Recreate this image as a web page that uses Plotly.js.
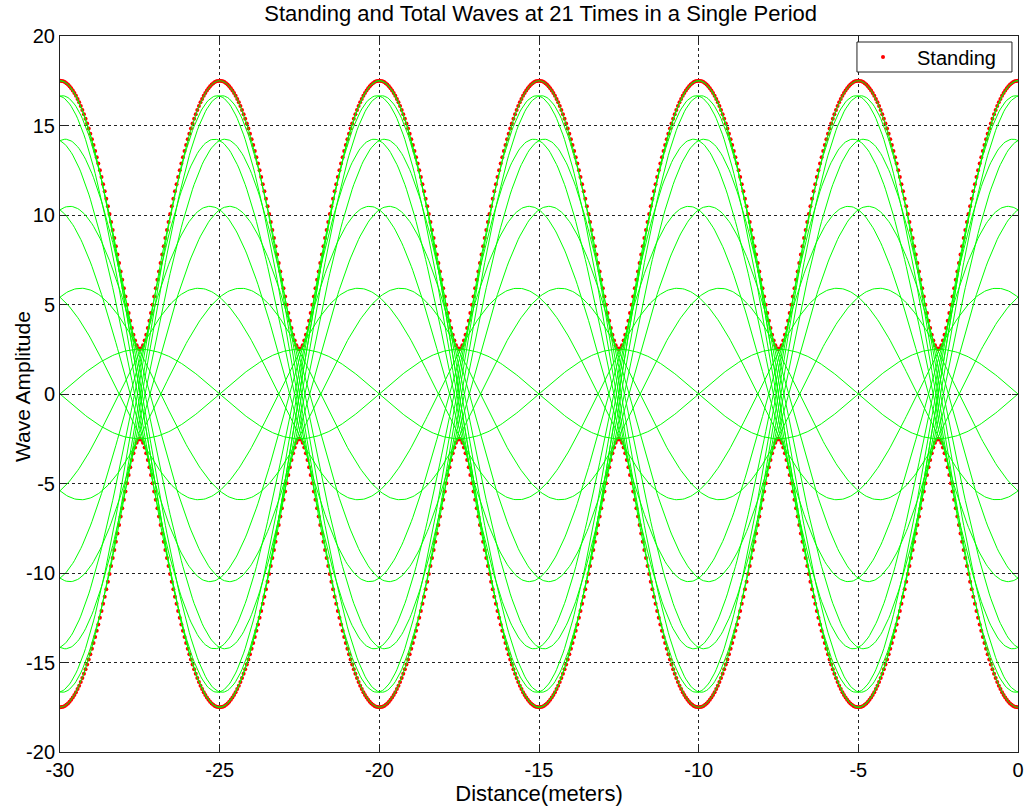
<!DOCTYPE html>
<html>
<head>
<meta charset="utf-8">
<script src="https://cdn.plot.ly/plotly-3.0.1.min.js"></script>
<style>html,body{margin:0;padding:0;background:#fff;}#chart{width:1026px;height:807px;}</style>
</head>
<body>
<div id="chart"></div>
<script>
// Parameters (wave model behind the drawn curves)
const incidentAmplitude = 10;     // peak sum 17.5, node minimum 2.5
const reflectedAmplitude = 7.5;
const wavelength = 10;            // peaks every 10 m, envelope every 5 m
const timeCount = 21;             // 21 times in a single period
const xStart = -30, xEnd = 0, xStep = 0.05;
const xTickVals = [-30, -25, -20, -15, -10, -5, 0];
const yTickVals = [-20, -15, -10, -5, 0, 5, 10, 15, 20];

const k = 2 * Math.PI / wavelength;
const xs = [];
for (let x = xStart; x <= xEnd + 1e-9; x += xStep) xs.push(+x.toFixed(4));

const envTop = xs.map(x => Math.sqrt(incidentAmplitude ** 2 + reflectedAmplitude ** 2 +
  2 * incidentAmplitude * reflectedAmplitude * Math.cos(2 * k * x)));
const redX = xs.concat(xs);
const redY = envTop.concat(envTop.map(v => -v));

const traces = [{
  x: redX, y: redY, mode: 'markers', type: 'scatter', name: 'Standing',
  marker: {color: '#ff0000', size: 4, symbol: 'circle'}
}];
for (let i = 0; i < timeCount; i++) {
  const phi = 2 * Math.PI * i / (timeCount - 1);
  traces.push({
    x: xs,
    y: xs.map(x => incidentAmplitude * Math.cos(k * x - phi) + reflectedAmplitude * Math.cos(k * x + phi)),
    mode: 'lines', type: 'scatter', showlegend: false, hoverinfo: 'skip',
    line: {color: '#00ff00', width: 1}
  });
}

const fontFam = 'Liberation Sans, Arial, sans-serif';
const axisCommon = {
  showline: true, mirror: 'ticks', linecolor: '#222', linewidth: 1,
  ticks: 'inside', ticklen: 6, tickcolor: '#222',
  showgrid: true, gridcolor: '#222', griddash: '3px,3px', gridwidth: 1,
  zeroline: false, tickfont: {family: fontFam, size: 20, color: '#000'}
};
const layout = {
  width: 1026, height: 807,
  paper_bgcolor: '#fff', plot_bgcolor: '#fff',
  margin: {l: 60, r: 8, t: 36, b: 55},
  title: {text: 'Standing and Total Waves at 21 Times in a Single Period',
    font: {family: fontFam, size: 22, color: '#000'}, x: 0.527, xanchor: 'center', y: 0.993, yanchor: 'top'},
  xaxis: Object.assign({}, axisCommon, {
    range: [xStart, xEnd], tickvals: xTickVals, ticktext: xTickVals.map(String),
    title: {text: 'Distance(meters)', font: {family: fontFam, size: 22, color: '#000'}, standoff: 0}
  }),
  yaxis: Object.assign({}, axisCommon, {
    range: [-20, 20], tickvals: yTickVals, ticktext: yTickVals.map(String)
  }),
  annotations: [{
    text: 'Wave Amplitude', textangle: -90, showarrow: false,
    xref: 'paper', yref: 'paper', x: -0.0397, y: 0.511, xanchor: 'center', yanchor: 'middle',
    font: {family: fontFam, size: 21, color: '#000'}
  }],
  shapes: [{
    type: 'rect', xref: 'paper', yref: 'paper', layer: 'above',
    x0: 0.8319, x1: 0.9937, y0: 0.9497, y1: 0.9916,
    fillcolor: '#ffffff', line: {color: '#222', width: 1}
  }],
  showlegend: true,
  legend: {x: 0.8236, xanchor: 'left', y: 0.9707, yanchor: 'middle', itemwidth: 58,
    bgcolor: 'rgba(0,0,0,0)', borderwidth: 0,
    font: {family: fontFam, size: 20, color: '#000'}}
};
Plotly.newPlot('chart', traces, layout, {displayModeBar: false, staticPlot: true});
</script>
</body>
</html>
